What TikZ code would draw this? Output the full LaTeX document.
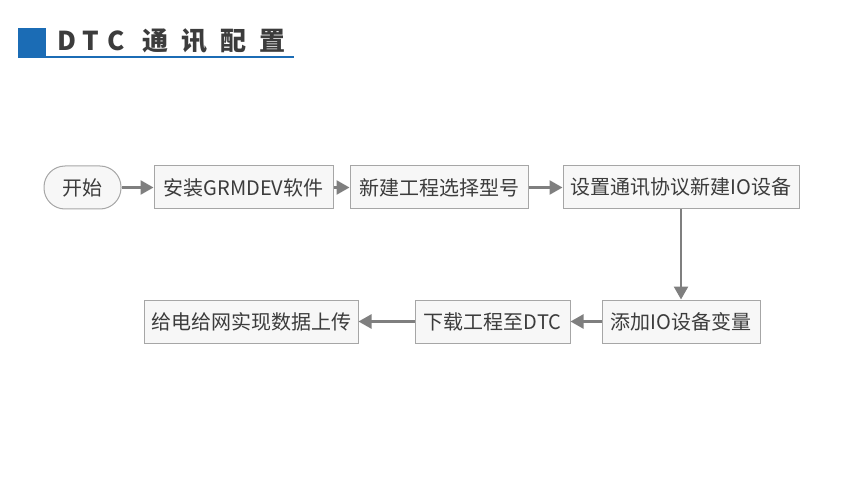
\documentclass[tikz,border=0pt]{standalone}
\usepackage{fontspec}
\usepackage{xcolor}
\usepackage{tikz}
\usetikzlibrary{arrows.meta}
\newfontfamily\cjk{Noto Sans CJK SC}
\definecolor{titleblue}{HTML}{1B6CB5}
\definecolor{txtgray}{HTML}{3C3C3C}
\definecolor{boxline}{HTML}{A6A6A6}
\definecolor{boxfill}{HTML}{F7F7F7}
\definecolor{arrgray}{HTML}{7F7F7F}

\begin{document}
\begin{tikzpicture}[
    x=1pt, y=-1pt,
    box/.style={draw=boxline, fill=boxfill, line width=1pt, minimum height=43pt, inner sep=0pt,
        align=center, text=txtgray, font=\cjk\fontsize{20}{23}\selectfont},
    startbox/.style={box, rounded corners=21pt},
    arr/.style={-{Triangle[length=13pt,width=14pt]}, line width=2.5pt, draw=arrgray}
]
\useasboundingbox (0,0) rectangle (860,484);

% title bar
\fill[titleblue] (18,28) rectangle (46,58);
\draw[titleblue, line width=1.5pt] (46,57) -- (294,57);
\node[anchor=west, inner sep=0pt, text=txtgray, font=\cjk\bfseries\fontsize{26}{30}\selectfont] (title) at (57,41)
    {D\hspace{6pt}T\hspace{9pt}C\hspace{17pt}通\hspace{13pt}讯\hspace{13pt}配\hspace{13pt}置};

% flow steps
\node[startbox, minimum width=77pt] (start) at (82.5,187.5) {开始};
\node[box, minimum width=179pt] (install) at (243.5,187.5) {安装GRMDEV软件};
\node[box, minimum width=178pt] (project) at (439,187.5) {新建工程选择型号};
\node[box, minimum width=236pt] (protocol) at (681,187.5) {设置通讯协议新建IO设备};
\node[box, minimum width=158pt] (vars) at (681,321.5) {添加IO设备变量};
\node[box, minimum width=155pt] (download) at (492.5,321.5) {下载工程至DTC};
\node[box, minimum width=214pt] (upload) at (251,321.5) {给电给网实现数据上传};

\draw[arr] (start) -- (install);
\draw[arr] (install) -- (project);
\draw[arr] (project) -- (protocol);
\draw[arr] (protocol) -- (vars);
\draw[arr] (vars) -- (download);
\draw[arr] (download) -- (upload);
\end{tikzpicture}
\end{document}
